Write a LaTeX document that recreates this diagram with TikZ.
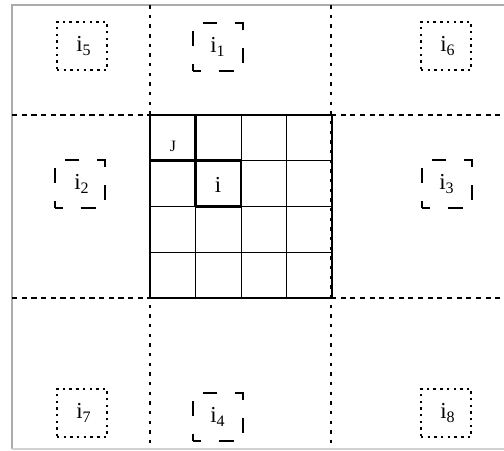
\documentclass[tikz,border=0pt]{standalone}
\usepackage{fontspec}
\setmainfont{Liberation Serif}
\begin{document}
\begin{tikzpicture}[x=0.02cm, y=-0.02cm,
    lbl/.style={font=\fontsize{13}{15}\selectfont, inner sep=0pt},
    nbr/.style={lbl, draw, line width=1.2pt, minimum width=1cm, minimum height=.97cm},
    near nbr/.style={nbr, dash pattern=on 8.5pt off 10.15pt, dash phase=4pt},
    far nbr/.style={nbr, line width=1.4pt, dash pattern=on 1.4pt off 2.4pt},
    thin cell/.style={line width=.55pt},
    thick cell/.style={line width=1.5pt}]
    \useasboundingbox (0,0) rectangle (504,450);
    % outer frame
    \draw[gray!65, line width=1.1pt] (504,5) -- (12,5) -- (12,449);
    \draw[gray!35, line width=.6pt] (12,449) -- (504,449);
    % region borders
    \draw[line width=.7pt, dash pattern=on 3pt off 2.5pt] (12,115) -- (504,115) (12,298) -- (504,298);
    \draw[line width=.7pt, dash pattern=on 2pt off 3.5pt] (150,5) -- (150,449) (331,5) -- (331,449);
    % the 4x4 block
    \coordinate (nw) at (150,115);
    \coordinate (se) at (332,298);
    \foreach \k in {1,2,3} {
      \draw[thin cell] (150+45.5*\k,115) -- (150+45.5*\k,298);
      \draw[thin cell] (150,115+45.75*\k) -- (332,115+45.75*\k);
    }
    \draw[thick cell] (150,160.75) -- (241,160.75);
    \draw[thick cell] (195.5,115) -- (195.5,206.5);
    \draw[thick cell] (195.5,206.5) -- (241,206.5) -- (241,160.75);
    \draw[thick cell] (nw) rectangle (se);
    \node[font=\fontsize{9}{10}\selectfont, inner sep=0pt] (j) at (173,146) {J};
    \node[lbl] (i) at (218,185) {i};
    % neighbours
    \node[far nbr]  (i5) at (82,46)   {\,i\textsubscript{5}};
    \node[near nbr] (i1) at (218,47)  {i\textsubscript{1}};
    \node[far nbr]  (i6) at (446,46)  {\,i\textsubscript{6}};
    \node[near nbr] (i2) at (80,184)  {\,i\textsubscript{2}};
    \node[near nbr] (i3) at (447,184) {i\textsubscript{3}};
    \node[far nbr]  (i7) at (82,413)  {\,i\textsubscript{7}};
    \node[near nbr] (i4) at (218,417) {i\textsubscript{4}};
    \node[far nbr]  (i8) at (446,413) {\,i\textsubscript{8}};
\end{tikzpicture}
\end{document}
